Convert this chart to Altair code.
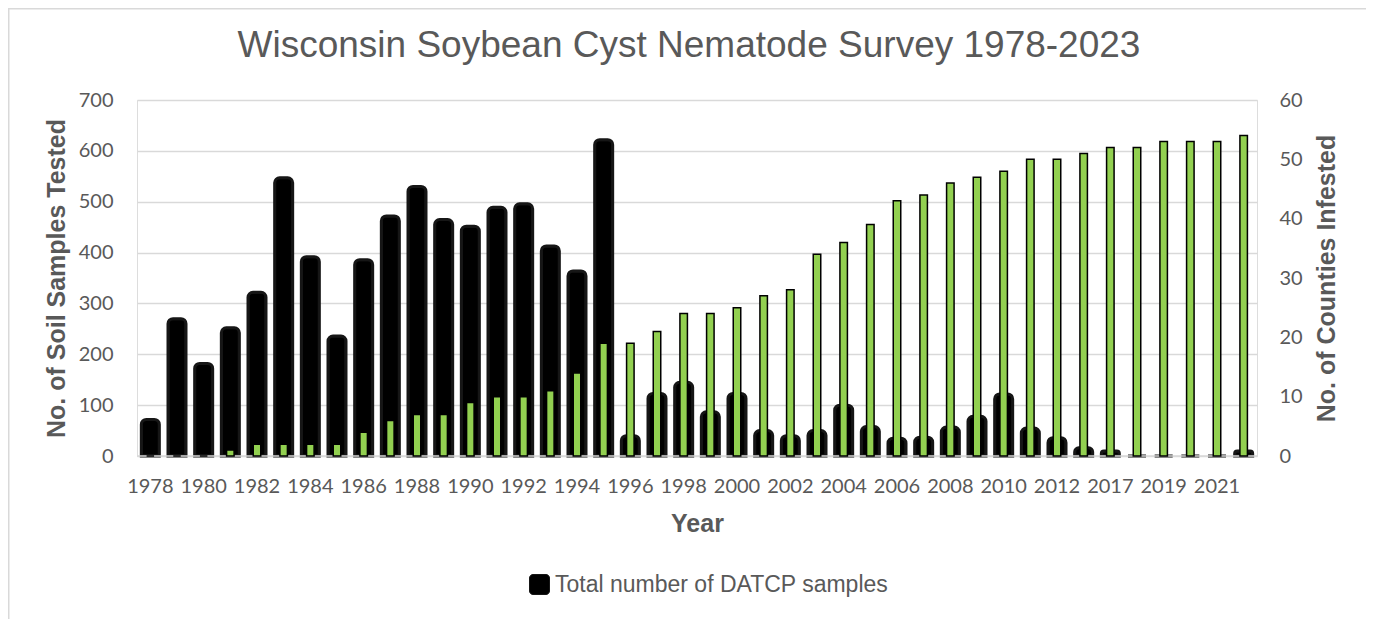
import altair as alt
import pandas as pd

years = [str(y) for y in range(1978, 2013)] + ["2016", "2017", "2018", "2019", "2020", "2021", "2023"]
samples = [72, 270, 182, 252, 322, 547, 392, 236, 386, 472, 530, 465, 452, 489, 496, 413, 364, 622,
           40, 123, 145, 87, 123, 50, 40, 50, 100, 58, 35, 37, 57, 78, 122, 55, 36,
           16, 10, 0, 0, 0, 0, 10]
counties = [0, 0, 0, 1, 2, 2, 2, 2, 4, 6, 7, 7, 9, 10, 10, 11, 14, 19,
            19, 21, 24, 24, 25, 27, 28, 34, 36, 39, 43, 44, 46, 47, 48, 50, 50,
            51, 52, 52, 53, 53, 53, 54]
x_labels = years[0::2]
left_ticks = [0, 100, 200, 300, 400, 500, 600, 700]
right_ticks = [0, 10, 20, 30, 40, 50, 60]
series_name = "Total number of DATCP samples"

df = pd.DataFrame({"Year": years, "Samples": samples, "Counties": counties})
df["series"] = series_name

GRAY = "#595959"
W, H = 1120, 356

x_enc = alt.X(
    "Year:N", sort=years, title="Year",
    scale=alt.Scale(paddingInner=0, paddingOuter=0),
    axis=alt.Axis(values=x_labels, labelAngle=0, domain=False, ticks=False, grid=False,
                  labelFont="Lato", labelFontSize=20, labelColor=GRAY, labelPadding=20,
                  titleFont="Liberation Sans", titleFontSize=25, titleFontWeight="bold",
                  titleColor=GRAY, titleX=560, titleY=67, titleBaseline="middle",
                  labelOverlap=False),
)

base = alt.Chart(df).encode(x=x_enc)

rounded = ("M-1,-0.65 A0.35,0.35 0 0 1 -0.65,-1 L0.65,-1 A0.35,0.35 0 0 1 1,-0.65 "
           "L1,0.65 A0.35,0.35 0 0 1 0.65,1 L-0.65,1 A0.35,0.35 0 0 1 -1,0.65 Z")

black = base.mark_bar(size=18, stroke="#161616", strokeWidth=3, cornerRadiusEnd=5).encode(
    y=alt.Y("Samples:Q", scale=alt.Scale(domain=[0, 700], nice=False),
            axis=alt.Axis(values=left_ticks, domain=False, ticks=False, grid=True,
                          gridColor="#d9d9d9", gridWidth=1.5,
                          labelFont="Lato", labelFontSize=20, labelColor=GRAY, labelPadding=24,
                          title="No. of Soil Samples Tested", titleFont="Liberation Sans",
                          titleFontSize=25, titleFontWeight="bold", titleColor=GRAY,
                          titleAngle=270, titleX=-81, titleY=178, titleAlign="center",
                          titleBaseline="middle")),
    color=alt.Color("series:N", scale=alt.Scale(range=["#000000"]),
                    legend=alt.Legend(title=None, orient="none", legendX=391, legendY=473,
                                      symbolType=rounded, symbolSize=400,
                                      symbolStrokeColor="#161616", symbolStrokeWidth=1,
                                      labelFont="Liberation Sans", labelFontSize=23,
                                      labelColor=GRAY, labelOffset=4, labelLimit=500)),
)

zero = alt.Chart(pd.DataFrame({"z": [0]})).mark_rule(color="#d9d9d9", strokeWidth=1.5).encode(
    y=alt.Y("z:Q", scale=alt.Scale(domain=[0, 700], nice=False), axis=None),
    x=alt.value(0), x2=alt.value(W),
)

green = base.mark_bar(size=7.5, color="#92d050", stroke="#000000", strokeWidth=1.5).encode(
    y=alt.Y("Counties:Q", scale=alt.Scale(domain=[0, 60], nice=False),
            axis=alt.Axis(orient="right", values=right_ticks, domain=False, ticks=False, grid=False,
                          labelFont="Lato", labelFontSize=20, labelColor=GRAY, labelPadding=22,
                          title="No. of Counties Infested", titleFont="Liberation Sans",
                          titleFontSize=25, titleFontWeight="bold", titleColor=GRAY,
                          titleAngle=270, titleX=69, titleY=178, titleAlign="center",
                          titleBaseline="middle")),
)

frame_df = pd.DataFrame({"f": [0]})
frame_left = alt.Chart(frame_df).mark_rect(color="#d9d9d9", strokeWidth=0).encode(
    x=alt.value(-129), x2=alt.value(-127.5), y=alt.value(-92), y2=alt.value(519))
frame_top = alt.Chart(frame_df).mark_rect(color="#d9d9d9", strokeWidth=0).encode(
    x=alt.value(-129), x2=alt.value(1229), y=alt.value(-92), y2=alt.value(-90.5))

chart = alt.layer(frame_left, frame_top, black, zero, green).resolve_scale(y="independent").properties(
    width=W, height=H,
    title=alt.Title("Wisconsin Soybean Cyst Nematode Survey 1978-2023", font="Liberation Sans",
                    fontSize=37, fontWeight="normal", color=GRAY, anchor="middle",
                    frame="group", baseline="alphabetic", offset=-86, dx=-8),
    autosize=alt.AutoSizeParams(type="none"),
    padding={"left": 129, "top": 92, "right": 109, "bottom": 163},
).configure_view(stroke=None).configure(background="white")

chart.save("out.html", embed_options={"renderer": "svg", "actions": False})
